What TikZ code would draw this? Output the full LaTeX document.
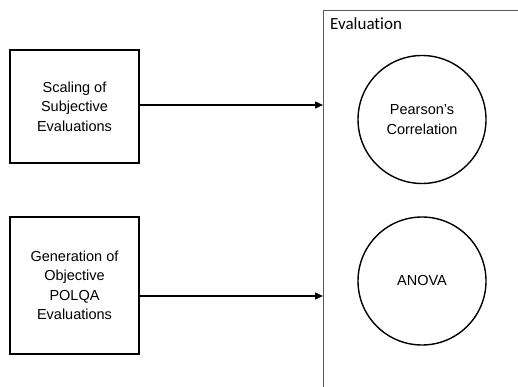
\documentclass[tikz,border=0pt]{standalone}
\usepackage{fontspec}
\setmainfont{Liberation Sans}
\newfontfamily\calibri[Ligatures=NoCommon]{Carlito}
\usetikzlibrary{arrows.meta}
\begin{document}
\begin{tikzpicture}[x=1pt, y=-1pt]

  \tikzstyle{stage} = [draw, line width=1.6, minimum width=129, minimum height=113, align=center,
    font=\fontsize{14.5}{19.5}\selectfont]
  \tikzstyle{test} = [draw, circle, line width=1.4, minimum size=128, align=center,
    font=\fontsize{14.5}{19.5}\selectfont]

  \useasboundingbox (0,0) rectangle (518,387);

  % evaluation frame, runs off the page
  \draw[gray!70!black, line width=0.8] (323,387) -- (323,10.5) -- (518,10.5);
  \node[anchor=north west, inner sep=0, font=\calibri\fontsize{17}{19}\selectfont] (EV) at (330,17) {Evaluation};

  \node[stage] (SC) at (74.5,106.5) {Scaling of\\Subjective\\Evaluations};
  \node[stage, minimum height=137] (PQ) at (74.5,285.5) {Generation of\\Objective\\POLQA\\Evaluations};

  \node[test] (PC) at (422,119.5) {Pearson’s\\Correlation};
  \node[test] (AN) at (422,281) {ANOVA};

  \coordinate (in1) at (323,105);
  \coordinate (in2) at (323,296);

  \draw[-{Triangle[length=8,width=7]}, line width=1.3] (SC.east |- in1) -- (in1);
  \draw[-{Triangle[length=8,width=7]}, line width=1.3] (PQ.east |- in2) -- (in2);

\end{tikzpicture}
\end{document}
